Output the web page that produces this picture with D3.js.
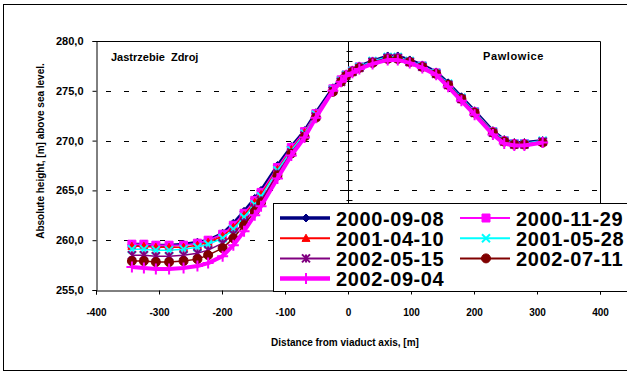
<!DOCTYPE html>
<html>
<head>
<meta charset="utf-8">
<script src="https://cdn.jsdelivr.net/npm/d3@7"></script>
<style>
body { margin: 0; background: #ffffff; }
text { font-family: "Liberation Sans", Arial, sans-serif; font-weight: bold; fill: #000; }
</style>
</head>
<body>
<div id="chart"></div>
<script>

// distance from viaduct axis [m]
const distances = [-343, -324, -305, -284, -261, -239, -222, -199, -182, -165, -148, -138, -112, -90, -69, -51, -24, -11, -3,
  7, 18, 39, 63, 79, 98, 118, 140, 159, 180, 201, 230, 248, 264, 280, 309]

const seriesNames = ["2000-09-08", "2000-11-29", "2001-04-10", "2001-05-28", "2002-05-15", "2002-07-11", "2002-09-04"]

// absolute height [m] for each survey
const h20000908 = [259.6, 259.6, 259.5, 259.5, 259.6, 259.8, 260.0, 260.7, 261.7, 262.9, 264.2, 265.0, 267.5, 269.4, 271.0, 272.8, 275.3, 276.2, 276.7,
  277.1, 277.5, 278.0, 278.5, 278.5, 278.1, 277.6, 276.9, 275.8, 274.4, 273.0, 271.0, 270.1, 269.8, 269.8, 270.0]
const h20001129 = [259.6, 259.6, 259.5, 259.5, 259.5, 259.7, 260.0, 260.6, 261.5, 262.7, 264.0, 264.8, 267.3, 269.3, 270.9, 272.7, 275.2, 276.1, 276.6,
  277.0, 277.4, 277.9, 278.3, 278.3, 277.9, 277.5, 276.8, 275.6, 274.2, 272.9, 270.9, 270.0, 269.7, 269.7, 269.9]
const h20010410 = [259.4, 259.4, 259.3, 259.3, 259.3, 259.5, 259.8, 260.4, 261.3, 262.5, 263.8, 264.6, 267.1, 269.1, 270.8, 272.6, 275.1, 276.1, 276.6,
  277.0, 277.4, 277.9, 278.3, 278.3, 277.9, 277.5, 276.8, 275.6, 274.2, 272.9, 270.9, 270.0, 269.7, 269.7, 269.9]
const h20010528 = [259.1, 259.1, 259.0, 259.0, 259.1, 259.3, 259.6, 260.2, 261.1, 262.3, 263.6, 264.4, 267.0, 269.0, 270.7, 272.6, 275.1, 276.0, 276.6,
  277.0, 277.4, 278.0, 278.4, 278.4, 278.0, 277.5, 276.8, 275.7, 274.3, 272.9, 270.9, 270.0, 269.7, 269.7, 270.0]
const h20020515 = [258.5, 258.5, 258.4, 258.4, 258.5, 258.7, 259.0, 259.7, 260.6, 261.8, 263.2, 264.0, 266.7, 268.8, 270.5, 272.4, 275.0, 275.9, 276.5,
  276.9, 277.3, 277.9, 278.3, 278.3, 277.9, 277.4, 276.7, 275.6, 274.2, 272.8, 270.8, 269.9, 269.6, 269.6, 269.9]
const h20020711 = [257.9, 257.9, 257.8, 257.8, 257.9, 258.1, 258.5, 259.2, 260.2, 261.5, 262.9, 263.8, 266.5, 268.7, 270.4, 272.3, 274.9, 275.9, 276.5,
  276.9, 277.3, 277.8, 278.2, 278.2, 277.9, 277.4, 276.7, 275.6, 274.2, 272.8, 270.8, 269.9, 269.6, 269.6, 269.8]
const h20020904 = [257.3, 257.2, 257.1, 257.1, 257.2, 257.4, 257.7, 258.4, 259.5, 260.9, 262.5, 263.4, 266.2, 268.5, 270.3, 272.3, 275.0, 275.9, 276.5,
  276.8, 277.2, 277.7, 278.1, 278.1, 277.8, 277.3, 276.6, 275.4, 274.0, 272.6, 270.6, 269.7, 269.5, 269.5, 269.8]

const xTicks = [-400, -300, -200, -100, 0, 100, 200, 300, 400]
const yTicks = [255, 260, 265, 270, 275, 280]
const gridValues = [260, 265, 270, 275]

const width = 627
const height = 374

const svg = d3.select("#chart").append("svg")
.attr("width", width)
.attr("height", height)

// outer chart border
svg.append("rect")
.attr("x", 3.5)
.attr("y", 4.5)
.attr("width", 700)
.attr("height", 366)
.attr("fill", "#ffffff")
.attr("stroke", "#000000")

const x = d3.scaleLinear().domain([-400, 400]).range([96, 600])
const y = d3.scaleLinear().domain([255, 280]).range([290, 41])

// plot frame (top + right)
svg.append("path")
.attr("d", `M${x(-400)},${y(280) + 0.5}H${x(400) + 0.5}V${y(255)}`)
.attr("fill", "none")
.attr("stroke", "#000000")

// dashed grid
svg.selectAll(".grid")
.data(gridValues)
.join("line")
.attr("x1", x(-400) + 10)
.attr("x2", x(400))
.attr("y1", d => Math.round(y(d)) + 0.5)
.attr("y2", d => Math.round(y(d)) + 0.5)
.attr("stroke", "#000000")
.attr("stroke-dasharray", "5,13")

// axes
const xAxis = svg.append("g")
.attr("transform", `translate(0,${y(255) + 0.5})`)
.call(d3.axisBottom(x).tickValues(xTicks).tickSize(4).tickPadding(14).tickFormat(d => String(d)))
xAxis.selectAll("text").style("font-size", "10px")

const yAxis = svg.append("g")
.attr("transform", `translate(${x(-400) + 0.5},0)`)
.call(d3.axisLeft(y).tickValues(yTicks).tickSize(4).tickPadding(9)
  .tickFormat(d => d.toFixed(1).replace(".", ",")))
yAxis.selectAll("text").style("font-size", "11px")

svg.selectAll(".domain").attr("stroke", "#000000")
svg.selectAll(".tick line").attr("stroke", "#000000")

// axis through x = 0 with minor ticks
const zeroX = Math.round(x(0)) + 0.5
svg.append("line")
.attr("x1", zeroX)
.attr("x2", zeroX)
.attr("y1", y(280))
.attr("y2", y(255))
.attr("stroke", "#000000")

svg.selectAll(".minor")
.data(y.ticks(25))
.join("line")
.attr("x1", d => zeroX - (d % 5 == 0 ? 4 : 2))
.attr("x2", zeroX + 4)
.attr("y1", d => Math.round(y(d)) + 0.5)
.attr("y2", d => Math.round(y(d)) + 0.5)
.attr("stroke", "#000000")

// marker shapes
function markerPath(kind, s) {
  const h = s / 2
  if (kind == "diamond") return `M0,${-h}L${h},0L0,${h}L${-h},0Z`
  if (kind == "square") return `M${-h},${-h}H${h}V${h}H${-h}Z`
  if (kind == "triangle") return `M0,${-h}L${h},${h * 0.8}L${-h},${h * 0.8}Z`
  if (kind == "times") return `M${-h},${-h}L${h},${h}M${-h},${h}L${h},${-h}`
  if (kind == "asterisk") return `M${-h},${-h}L${h},${h}M${-h},${h}L${h},${-h}M0,${-h}V${h}`
  if (kind == "circle") return `M${h},0A${h},${h} 0 1,1 ${-h},0A${h},${h} 0 1,1 ${h},0Z`
  if (kind == "plus") return `M${-h},0H${h}M0,${-h}V${h}`
}

const series = [
  { name: seriesNames[0], values: h20000908, color: "#000080", lw: 3, marker: "diamond", size: 8, filled: true },
  { name: seriesNames[1], values: h20001129, color: "#ff00ff", lw: 1.5, marker: "square", size: 8, filled: true },
  { name: seriesNames[2], values: h20010410, color: "#ff0000", lw: 1.5, marker: "triangle", size: 8, filled: true },
  { name: seriesNames[3], values: h20010528, color: "#00ffff", lw: 1.5, marker: "times", size: 8, filled: false },
  { name: seriesNames[4], values: h20020515, color: "#800080", lw: 1.5, marker: "asterisk", size: 8, filled: false },
  { name: seriesNames[5], values: h20020711, color: "#800000", lw: 1.5, marker: "circle", size: 9, filled: true },
  { name: seriesNames[6], values: h20020904, color: "#ff00ff", lw: 4, marker: "plus", size: 11, filled: false }
]

const line = d3.line()
.x(d => x(d[0]))
.y(d => y(d[1]))

series.forEach(s => {
  const pts = distances.map((d, i) => [d, s.values[i]])

  svg.append("path")
  .datum(pts)
  .attr("d", line)
  .attr("fill", "none")
  .attr("stroke", s.color)
  .attr("stroke-width", s.lw)
  .attr("stroke-linejoin", "round")

  svg.append("g")
  .selectAll("path")
  .data(pts)
  .join("path")
  .attr("transform", d => `translate(${x(d[0])},${y(d[1])})`)
  .attr("d", markerPath(s.marker, s.size))
  .attr("fill", s.filled ? s.color : "none")
  .attr("stroke", s.color)
  .attr("stroke-width", s.filled ? 1 : 2)
})

// region labels
svg.append("text")
.attr("x", 111)
.attr("y", 61)
.style("font-size", "11px")
.style("white-space", "pre")
.text("Jastrzebie  Zdroj")

svg.append("text")
.attr("x", 483)
.attr("y", 60)
.style("font-size", "11px")
.style("letter-spacing", "0.6px")
.text("Pawlowice")

// axis titles
svg.append("text")
.attr("transform", `translate(44,${151}) rotate(-90)`)
.attr("text-anchor", "middle")
.style("font-size", "10px")
.text("Absolute height, [m] above sea level.")

svg.append("text")
.attr("x", 345)
.attr("y", 346)
.attr("text-anchor", "middle")
.style("font-size", "10px")
.text("Distance from viaduct axis, [m]")

// legend
const legend = svg.append("g")

legend.append("rect")
.attr("x", 273.5)
.attr("y", 203.5)
.attr("width", 400)
.attr("height", 88)
.attr("fill", "#ffffff")
.attr("stroke", "#000000")

const items = legend.selectAll(".item")
.data(series)
.join("g")
.attr("transform", (d, i) => `translate(${i % 2 == 0 ? 280 : 460},${218 + Math.floor(i / 2) * 20.2})`)

items.append("line")
.attr("x1", 0)
.attr("x2", 50)
.attr("stroke", d => d.color)
.attr("stroke-width", d => d.lw == 1.5 ? 2 : d.lw + 0.5)

items.append("path")
.attr("transform", "translate(26,0)")
.attr("d", d => markerPath(d.marker, d.size))
.attr("fill", d => d.filled ? d.color : "none")
.attr("stroke", d => d.color)
.attr("stroke-width", d => d.filled ? 1 : 2)

items.append("text")
.attr("x", 56)
.attr("y", 7.5)
.style("font-size", "20px")
.style("letter-spacing", "0.6px")
.text(d => d.name)

</script>
</body>
</html>
